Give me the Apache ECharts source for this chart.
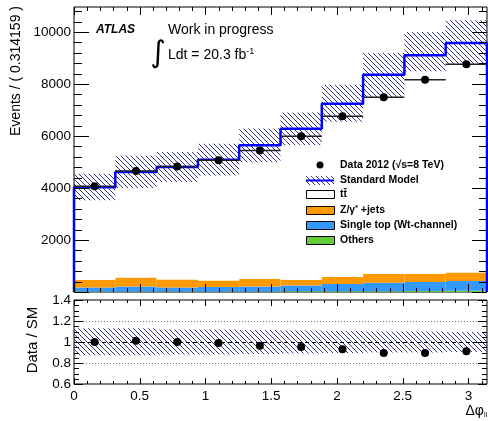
<!DOCTYPE html>
<html><head><meta charset="utf-8">
<script src="https://cdn.jsdelivr.net/npm/echarts@6/dist/echarts.min.js"></script>
<style>html,body{margin:0;padding:0;background:#fff}#c{width:488px;height:421px}</style>
</head><body><div id="c"></div>
<script>
// ---- data ----
const binEdges = [0, 0.314159, 0.628319, 0.942478, 1.256637, 1.570796, 1.884956, 2.199115, 2.513274, 2.827433, 3.141593];
const ttbar     = [3557, 4053, 4323, 4642, 5128, 5808, 6665, 7666, 8396, 8823];
const zJets     = [296, 347, 308, 254, 297, 219, 269, 334, 319, 331];
const singleTop = [157, 195, 157, 172, 195, 229, 283, 328, 350, 373];
const others    = [20, 20, 20, 20, 20, 25, 25, 30, 35, 50];
const smBandLow  = [3525, 4000, 4230, 4480, 4990, 5640, 6550, 7460, 8485, 8740];
const smBandHigh = [4550, 5240, 5385, 5700, 6290, 6900, 7970, 9190, 10000, 10450];
const dataVals   = [4062, 4654, 4831, 5062, 5440, 5985, 6754, 7485, 8165, 8754];
const ratioVals  = [1.0, 1.012, 1.0, 0.99, 0.965, 0.952, 0.93, 0.896, 0.896, 0.912];
const ratioBandLow  = [0.873, 0.875, 0.88, 0.88, 0.885, 0.89, 0.895, 0.90, 0.90, 0.904];
const ratioBandHigh = [1.13, 1.13, 1.12, 1.12, 1.115, 1.11, 1.105, 1.10, 1.10, 1.096];
const xTickLabels = [0, 0.5, 1, 1.5, 2, 2.5, 3];
const mainYTicks = [2000, 4000, 6000, 8000, 10000];
const ratioYTicks = [0.6, 0.8, 1.0, 1.2, 1.4];
const legendLabels = ['Data 2012 (√s=8 TeV)', 'Standard Model', 'tt\u0304', '{n|Z/γ}{s|*}{n| +jets}', 'Single top (Wt-channel)', 'Others'];
const compColors = { ttbar: '#ffffff', zJets: '#ff9900', singleTop: '#3399ff', others: '#66cc33' };

const FONT = '"Liberation Sans", Arial, Helvetica, sans-serif';
const nBins = dataVals.length;
const X_MAX = binEdges[nBins];
const MAIN_Y_MAX = 10960;

// hatch pattern
function makeHatch(color) {
  const c = document.createElement('canvas');
  const s = 5; c.width = s; c.height = s;
  const g = c.getContext('2d');
  g.strokeStyle = color; g.lineWidth = 1;
  for (const o of [-s, 0, s]) { g.beginPath(); g.moveTo(o, 0); g.lineTo(o + s, s); g.stroke(); }
  return { image: c, repeat: 'repeat' };
}
const hatch = makeHatch('#34348c');

// stacked rectangles
function stackData(order) {
  const base = new Array(nBins).fill(0);
  const out = {};
  for (const [name, arr] of order) {
    out[name] = arr.map((v, i) => { const r = [binEdges[i], binEdges[i + 1], base[i], base[i] + v]; base[i] += v; return r; });
  }
  return out;
}
const stacks = stackData([['others', others], ['singleTop', singleTop], ['zJets', zJets], ['ttbar', ttbar]]);
const smTotal = ttbar.map((v, i) => v + zJets[i] + singleTop[i] + others[i]);

function rectRender(fill) {
  return function (params, api) {
    const p0 = api.coord([api.value(0), api.value(3)]);
    const p1 = api.coord([api.value(1), api.value(2)]);
    return { type: 'rect', shape: { x: p0[0], y: p0[1], width: p1[0] - p0[0], height: p1[1] - p0[1] },
      style: { fill: fill, lineWidth: 0 } };
  };
}
function stackSeries(name) {
  return { type: 'custom', xAxisIndex: 0, yAxisIndex: 0, z: 1, clip: true,
    renderItem: rectRender(compColors[name]), data: stacks[name] };
}

// SM step line points
const smLine = [[binEdges[0], 0]];
for (let i = 0; i < nBins; i++) smLine.push([binEdges[i], smTotal[i]]);
smLine.push([binEdges[nBins], smTotal[nBins - 1]]);
smLine.push([binEdges[nBins], 0]);

const centers = dataVals.map((v, i) => (binEdges[i] + binEdges[i + 1]) / 2);

// ---- inward ROOT-style ticks drawn through the axes' scales ----
// item: [kind(0=x,1=y), value, lenA, lenB]
function tickItems(xStep, xMajor, xLenMaj, xLenMin, yMin, yMax, yStep, yMajor, yLenMaj, yLenMin) {
  const items = [];
  for (let k = 0; k * xStep <= X_MAX + 1e-9; k++) {
    const v = k * xStep; const isMaj = Math.abs(v / xMajor - Math.round(v / xMajor)) < 1e-6;
    items.push([0, v, isMaj ? xLenMaj : xLenMin]);
  }
  for (let k = 0; yMin + k * yStep <= yMax + 1e-9; k++) {
    const v = yMin + k * yStep; const isMaj = Math.abs(v / yMajor - Math.round(v / yMajor)) < 1e-6;
    items.push([1, v, isMaj ? yLenMaj : yLenMin]);
  }
  return items;
}
function tickSeries(xi, yi, yMin, yMax, items) {
  return { type: 'custom', xAxisIndex: xi, yAxisIndex: yi, z: 10, clip: false, silent: true,
    renderItem: function (params, api) {
      const kind = api.value(0), v = api.value(1), len = api.value(2);
      const st = { stroke: '#000', lineWidth: 1 };
      if (kind === 0) {
        const b = api.coord([v, yMin]), t = api.coord([v, yMax]);
        const x = Math.round(b[0]) + 0.5;
        return { type: 'group', children: [
          { type: 'line', shape: { x1: x, y1: b[1], x2: x, y2: b[1] - len }, style: st },
          { type: 'line', shape: { x1: x, y1: t[1], x2: x, y2: t[1] + len }, style: st } ] };
      }
      const l = api.coord([0, v]), r = api.coord([X_MAX, v]);
      const y = Math.round(l[1]) + 0.5;
      return { type: 'group', children: [
        { type: 'line', shape: { x1: l[0], y1: y, x2: l[0] + len, y2: y }, style: st },
        { type: 'line', shape: { x1: r[0], y1: y, x2: r[0] - len, y2: y }, style: st } ] };
    },
    data: items };
}

const xCommon = { type: 'value', min: 0, max: X_MAX, interval: 0.5,
  axisLine: { show: false }, splitLine: { show: false }, axisTick: { show: false }, minorTick: { show: false } };
const yCommon = { type: 'value', axisLine: { show: false }, splitLine: { show: false }, axisTick: { show: false }, minorTick: { show: false } };

const option = {
  animation: false,
  backgroundColor: '#fff',
  grid: [
    { left: 74, right: 1, top: 7, height: 285, show: true, borderColor: '#000', borderWidth: 1 },
    { left: 74, right: 1, top: 300, height: 84, show: true, borderColor: '#000', borderWidth: 1 }
  ],
  xAxis: [
    Object.assign({}, xCommon, { gridIndex: 0, position: 'bottom', axisLabel: { show: false } }),
    Object.assign({}, xCommon, { gridIndex: 1, position: 'bottom',
      axisLabel: { show: true, margin: 5, fontFamily: FONT, fontSize: 13.5, color: '#000', showMaxLabel: false,
        formatter: v => { const m = xTickLabels.find(t => Math.abs(t - v) < 1e-6); return m === undefined ? '' : String(m); } } })
  ],
  yAxis: [
    Object.assign({}, yCommon, { gridIndex: 0, position: 'left', min: 0, max: MAIN_Y_MAX, interval: mainYTicks[1] - mainYTicks[0],
      axisLabel: { margin: 3, fontFamily: FONT, fontSize: 13.5, color: '#000', showMinLabel: false, showMaxLabel: false,
        formatter: v => mainYTicks.includes(v) ? String(v) : '' } }),
    Object.assign({}, yCommon, { gridIndex: 1, position: 'left', min: ratioYTicks[0], max: ratioYTicks[ratioYTicks.length - 1], interval: 0.2,
      axisLabel: { margin: 3, fontFamily: FONT, fontSize: 13.5, color: '#000', formatter: v => String(Math.round(v * 10) / 10) } })
  ],
  series: [
    stackSeries('others'), stackSeries('singleTop'), stackSeries('zJets'), stackSeries('ttbar'),
    { type: 'custom', xAxisIndex: 0, yAxisIndex: 0, z: 2, clip: true, renderItem: rectRender(hatch),
      data: smBandLow.map((v, i) => [binEdges[i], binEdges[i + 1], v, smBandHigh[i]]) },
    { type: 'line', xAxisIndex: 0, yAxisIndex: 0, z: 3, step: 'end', symbol: 'none', clip: false,
      lineStyle: { color: '#0000ff', width: 2.5 }, data: smLine },
    { type: 'custom', xAxisIndex: 0, yAxisIndex: 0, z: 4, clip: true,
      renderItem: function (params, api) {
        const a = api.coord([api.value(0), api.value(2)]);
        const b = api.coord([api.value(1), api.value(2)]);
        return { type: 'line', shape: { x1: a[0], y1: a[1], x2: b[0], y2: b[1] }, style: { stroke: '#222', lineWidth: 1.5 } };
      },
      data: dataVals.map((v, i) => [binEdges[i], binEdges[i + 1], v]) },
    { type: 'scatter', xAxisIndex: 0, yAxisIndex: 0, z: 5, symbol: 'circle', symbolSize: 8,
      itemStyle: { color: '#000', opacity: 1 }, data: dataVals.map((v, i) => [centers[i], v]) },
    tickSeries(0, 0, 0, MAIN_Y_MAX, tickItems(0.1, 0.5, 8, 4, 0, 10800, 400, 2000, 15, 8)),
    // ratio panel
    { type: 'custom', xAxisIndex: 1, yAxisIndex: 1, z: 2, clip: true, renderItem: rectRender(hatch),
      data: ratioBandLow.map((v, i) => [binEdges[i], binEdges[i + 1], v, ratioBandHigh[i]]) },
    { type: 'scatter', xAxisIndex: 1, yAxisIndex: 1, z: 5, symbol: 'circle', symbolSize: 8,
      itemStyle: { color: '#000', opacity: 1 }, data: ratioVals.map((v, i) => [centers[i], v]),
      markLine: { silent: true, symbol: 'none', label: { show: false }, animation: false,
        data: [
          { yAxis: 1.2, lineStyle: { color: '#777', type: [1, 2], width: 1 } },
          { yAxis: 0.8, lineStyle: { color: '#777', type: [1, 2], width: 1 } },
          { yAxis: 1.0, lineStyle: { color: '#000', type: [4, 3], width: 1 } }
        ] } },
    tickSeries(1, 1, ratioYTicks[0], ratioYTicks[ratioYTicks.length - 1], tickItems(0.1, 0.5, 6, 3, 0.6, 1.4, 0.05, 0.2, 9, 5))
  ],
  graphic: [
    { type: 'text', z: 100, x: 16, y: 71, rotation: Math.PI / 2, style: { text: 'Events / ( 0.314159 )', font: '14px ' + FONT, fill: '#000', align: 'center', verticalAlign: 'middle' } },
    { type: 'text', z: 100, x: 33, y: 340, rotation: Math.PI / 2, style: { text: 'Data / SM', font: '15px ' + FONT, fill: '#000', align: 'center', verticalAlign: 'middle' } },
    { type: 'text', z: 100, x: 487, y: 411, style: { text: '{n|Δφ}{s|ll}', align: 'right', verticalAlign: 'middle', fill: '#000',
      rich: { n: { fontFamily: FONT, fontSize: 14, lineHeight: 16 }, s: { fontFamily: FONT, fontSize: 7, lineHeight: 7, verticalAlign: 'bottom' } } } },
    { type: 'text', z: 100, x: 96, y: 30, style: { text: 'ATLAS', font: 'italic bold 12px ' + FONT, fill: '#000', verticalAlign: 'middle' } },
    { type: 'text', z: 100, x: 168, y: 30, style: { text: 'Work in progress', font: '14px ' + FONT, fill: '#000', verticalAlign: 'middle' } },
    { type: 'text', z: 100, x: 158, y: 54, style: { text: '∫', font: '30px "DejaVu Sans"', fill: '#000', align: 'center', verticalAlign: 'middle' } },
    { type: 'text', z: 100, x: 168, y: 55, style: { text: '{n|Ldt = 20.3 fb}{s|-1}', verticalAlign: 'middle', fill: '#000',
      rich: { n: { fontFamily: FONT, fontSize: 14, lineHeight: 16 }, s: { fontFamily: FONT, fontSize: 9, lineHeight: 9, verticalAlign: 'top' } } } },
    // legend
    { type: 'circle', z: 100, shape: { cx: 320, cy: 165, r: 3.5 }, style: { fill: '#000' } },
    { type: 'rect', z: 100, shape: { x: 306, y: 176, width: 28, height: 9 }, style: { fill: hatch } },
    { type: 'line', z: 101, shape: { x1: 306, y1: 180.5, x2: 334, y2: 180.5 }, style: { stroke: '#0000ff', lineWidth: 2 } },
    { type: 'rect', z: 100, shape: { x: 306.5, y: 190.5, width: 28, height: 8 }, style: { fill: compColors.ttbar, stroke: '#000', lineWidth: 1 } },
    { type: 'rect', z: 100, shape: { x: 306.5, y: 206.5, width: 28, height: 8 }, style: { fill: compColors.zJets, stroke: '#000', lineWidth: 1 } },
    { type: 'rect', z: 100, shape: { x: 306.5, y: 221.5, width: 28, height: 8 }, style: { fill: compColors.singleTop, stroke: '#000', lineWidth: 1 } },
    { type: 'rect', z: 100, shape: { x: 306.5, y: 236.5, width: 28, height: 8 }, style: { fill: compColors.others, stroke: '#000', lineWidth: 1 } }
  ].concat(legendLabels.map((t, i) => ({ type: 'text', z: 100, x: 340, y: [165, 180, 194.5, 210.5, 225.5, 240.5][i],
    style: { text: t, font: 'bold 10.5px ' + FONT, fill: '#000', verticalAlign: 'middle',
      rich: { n: { fontFamily: FONT, fontWeight: 'bold', fontSize: 10.5 }, s: { fontFamily: FONT, fontWeight: 'bold', fontSize: 7, lineHeight: 7, verticalAlign: 'top' } } } })))
};

const chart = echarts.init(document.getElementById('c'), null, { renderer: 'canvas' });
chart.setOption(option);
</script></body></html>
